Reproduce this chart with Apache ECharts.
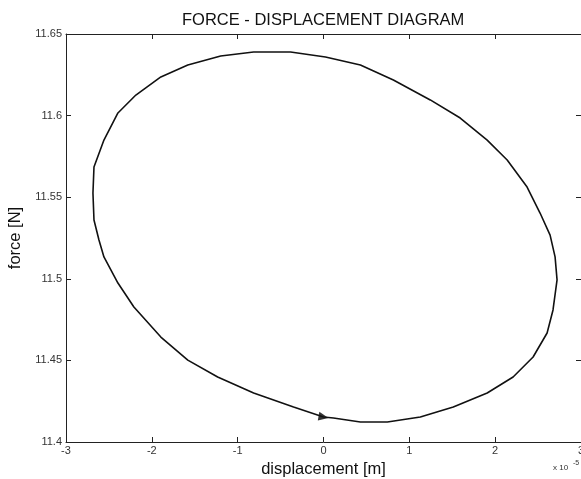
<!DOCTYPE html>
<html><head><meta charset="utf-8">
<script src="https://cdn.jsdelivr.net/npm/echarts@6/dist/echarts.min.js"></script>
<style>html,body{margin:0;padding:0;background:#fff}#c{width:581px;height:479px}</style>
</head><body><div id="c"></div>
<script>
const displacement = [0, 0.116, 0.43, 0.744, 1.128, 1.512, 1.907, 2.209, 2.442, 2.605, 2.674, 2.721, 2.698, 2.640, 2.523, 2.372, 2.140, 1.907, 1.593, 1.244, 0.814, 0.430, 0.023, -0.384, -0.814, -1.198, -1.581, -1.895, -2.186, -2.395, -2.558, -2.674, -2.686, -2.674, -2.616, -2.558, -2.395, -2.209, -1.895, -1.581, -1.233, -0.814, -0.349, 0];
const force = [11.4153, 11.4147, 11.4123, 11.4123, 11.4153, 11.4214, 11.4300, 11.4398, 11.4521, 11.4668, 11.4809, 11.4993, 11.5134, 11.5268, 11.5403, 11.5562, 11.5728, 11.5850, 11.5985, 11.6096, 11.6218, 11.6310, 11.6359, 11.6390, 11.6390, 11.6365, 11.6310, 11.6237, 11.6126, 11.6016, 11.5850, 11.5685, 11.5526, 11.5360, 11.5238, 11.5134, 11.4974, 11.4827, 11.4643, 11.4502, 11.4398, 11.4300, 11.4214, 11.4153];
const arrowX = [0];
const arrowY = [11.4153];
const xTicks = ['-3','-2','-1','0','1','2','3'];
const yTicks = ['11.4','11.45','11.5','11.55','11.6','11.65'];

const chart = echarts.init(document.getElementById('c'));
const font = 'Liberation Sans, Arial, sans-serif';
const axisBase = {
  axisLine: {show: true, onZero: false, lineStyle: {color: '#222', width: 1}},
  axisTick: {show: true, inside: true, length: 5, lineStyle: {color: '#222'}},
  splitLine: {show: false}
};
chart.setOption({
  animation: false,
  title: {text: 'FORCE - DISPLACEMENT DIAGRAM', left: 177, top: 7,
    textStyle: {fontFamily: font, fontSize: 16.5, fontWeight: 'normal', color: '#111'}},
  grid: {left: 66, right: 0, top: 34, bottom: 37, outerBoundsMode: 'none', containLabel: false},
  xAxis: [
    Object.assign({type: 'value', min: -3, max: 3, interval: 1, position: 'bottom',
      axisLabel: {fontFamily: font, fontSize: 11, color: '#333', margin: 3,
        formatter: v => xTicks[Math.round(v + 3)]},
      name: 'displacement [m]', nameLocation: 'middle', nameGap: 17,
      nameTextStyle: {fontFamily: font, fontSize: 16.5, color: '#111'}}, axisBase),
    Object.assign({type: 'value', min: -3, max: 3, interval: 1, position: 'top',
      axisLabel: {show: false}}, axisBase)
  ],
  yAxis: [
    Object.assign({type: 'value', min: 11.4, max: 11.65, interval: 0.05, position: 'left',
      axisLabel: {fontFamily: font, fontSize: 11, color: '#333', margin: 4,
        formatter: v => yTicks[Math.round((v - 11.4) / 0.05)]},
      name: 'force [N]', nameLocation: 'middle', nameGap: 37,
      nameTextStyle: {fontFamily: font, fontSize: 16.5, color: '#111'}}, axisBase),
    Object.assign({type: 'value', min: 11.4, max: 11.65, interval: 0.05, position: 'right',
      axisLabel: {show: false}}, axisBase)
  ],
  graphic: [{type: 'text', left: 553, top: 464,
    style: {text: 'x 10', font: '8px ' + font, fill: '#333'}},
    {type: 'text', left: 573, top: 460,
    style: {text: '-5', font: '7px ' + font, fill: '#333'}}],
  series: [
    {type: 'line', data: displacement.map((x, i) => [x, force[i]]), symbol: 'none', smooth: false,
      lineStyle: {color: '#111', width: 1.6}},
    {type: 'scatter', data: arrowX.map((x, i) => [x, arrowY[i]]), symbol: 'triangle',
      symbolSize: [9, 10], symbolRotate: -100, itemStyle: {color: '#000'}}
  ]
});
</script></body></html>
